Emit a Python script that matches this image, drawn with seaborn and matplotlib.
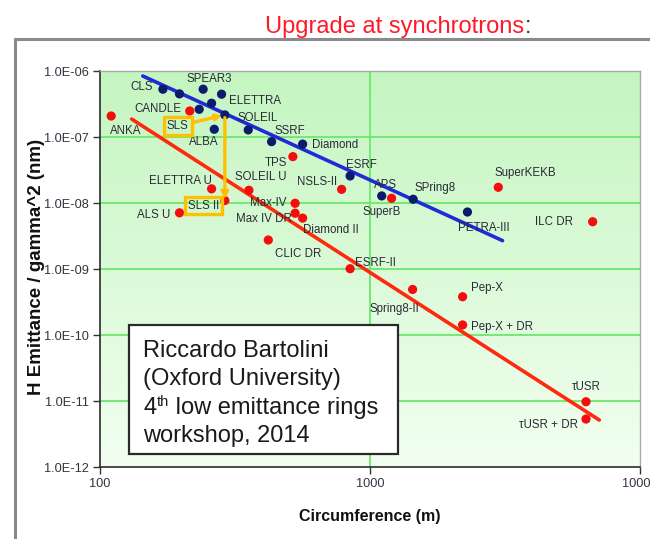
import numpy as np
import pandas as pd
import matplotlib
matplotlib.use("Agg")
import matplotlib.pyplot as plt
import seaborn as sns
from matplotlib import font_manager
from matplotlib.lines import Line2D
from matplotlib.patches import Rectangle

# ---------------------------------------------------------------- data
existing_names = ["CLS", "", "SPEAR3", "ELETTRA", "", "", "SLS", "ALBA", "SOLEIL",
                  "SSRF", "Diamond", "ESRF", "APS", "SPring8", "PETRA-III"]
existing_circ = [171, 197, 241, 282, 259, 233, 290, 265, 354,
                 432, 563, 844, 1105, 1445, 2296]
existing_emit = [5.3e-7, 4.5e-7, 5.3e-7, 4.45e-7, 3.25e-7, 2.63e-7, 2.16e-7, 1.31e-7, 1.28e-7,
                 8.5e-8, 7.8e-8, 2.57e-8, 1.28e-8, 1.14e-8, 7.3e-9]

upgrade_names = ["ANKA", "CANDLE", "ELETTRA U", "SOLEIL U", "SLS II", "ALS U", "Max-IV",
                 "Max IV DR", "Diamond II", "CLIC DR", "NSLS-II", "SuperB", "ESRF-II", "TPS",
                 "Spring8-II", "Pep-X", "Pep-X + DR", "τUSR", "τUSR + DR", "SuperKEKB", "ILC DR"]
upgrade_circ = [110, 215, 259, 356, 290, 197, 528,
                528, 563, 420, 785, 1202, 844, 518,
                1438, 2203, 2203, 6310, 6310, 2986, 6678]
upgrade_emit = [2.08e-7, 2.48e-7, 1.64e-8, 1.56e-8, 1.09e-8, 7.1e-9, 9.9e-9,
                7.0e-9, 5.9e-9, 2.75e-9, 1.61e-8, 1.18e-8, 1.01e-9, 5.04e-8,
                4.9e-10, 3.8e-10, 1.42e-10, 9.75e-12, 5.33e-12, 1.73e-8, 5.2e-9]

# scaling-law fits
existing_fit_circ = [144, 3097]
existing_fit_emit = [8.4e-7, 2.69e-9]
upgrade_fit_circ = [131, 7066]
upgrade_fit_emit = [1.87e-7, 5.15e-12]

x_ticks = [100, 1000, 10000]
x_tick_labels = ["100", "1000", "10000"]
y_ticks = [1e-12, 1e-11, 1e-10, 1e-9, 1e-8, 1e-7, 1e-6]
y_tick_labels = ["1.0E-12", "1.0E-11", "1.0E-10", "1.0E-09", "1.0E-08", "1.0E-07", "1.0E-06"]

title_text = "Upgrade at synchrotrons"
credit_lines = ["Riccardo Bartolini", "(Oxford University)", None, "workshop, 2014"]
credit_ordinal = ("4", "th", " low emittance rings")

# label placement (pixel offsets from each dot, horizontal alignment)
existing_label_pos = {
    "CLS": (-10, 2, "right"), "SPEAR3": (6, 10, "center"), "ELETTRA": (7, -7, "left"),
    "ALBA": (-11, -13, "center"), "SOLEIL": (-11, 12, "left"), "SSRF": (3, 11, "left"),
    "Diamond": (9, -1, "left"), "ESRF": (-4, 11, "left"), "APS": (-8, 11, "left"),
    "SPring8": (1, 11, "left"), "PETRA-III": (-9, -16, "left"),
}
upgrade_label_pos = {
    "ANKA": (-1, -15, "left"), "CANDLE": (-8, 2, "right"), "ELETTRA U": (0, 8, "right"),
    "SOLEIL U": (-14, 13, "left"), "ALS U": (-9, -2, "right"), "Max-IV": (-9, 0, "right"),
    "Max IV DR": (-3, -6, "right"), "Diamond II": (0, -12, "left"), "CLIC DR": (7, -14, "left"),
    "NSLS-II": (-4, 7, "right"), "SuperB": (-10, -14, "center"), "ESRF-II": (5, 6, "left"),
    "TPS": (-6, -6, "right"), "Spring8-II": (-18, -20, "center"), "Pep-X": (8, 9, "left"),
    "Pep-X + DR": (8, -2, "left"), "τUSR": (0, 15, "center"), "τUSR + DR": (-8, -6, "right"),
    "SuperKEKB": (27, 14, "center"), "ILC DR": (-20, 0, "right"),
}

# ---------------------------------------------------------------- fonts
sns.set_style("white")
available = {f.name for f in font_manager.fontManager.ttflist}
NARROW = "Liberation Sans Narrow" if "Liberation Sans Narrow" in available else None
plt.rcParams["font.family"] = ["Liberation Sans", "DejaVu Sans"]
REG = ["Liberation Sans", "DejaVu Sans"]


def cond(size):
    """Condensed face when present, else the regular face at equivalent width."""
    if NARROW:
        return dict(family=[NARROW, "DejaVu Sans"], fontsize=size / 0.82)
    return dict(family=REG, fontsize=size)


W, H = 650, 539
fig = plt.figure(figsize=(W / 100, H / 100), dpi=100)


def fx(px):
    return px / W


def fy(py):
    return 1 - py / H


# plot area
ax_l, ax_r, ax_t, ax_b = 100, 640, 71, 467
rect = [fx(ax_l), fy(ax_b), (ax_r - ax_l) / W, (ax_b - ax_t) / H]

# gradient backdrop
bg = fig.add_axes(rect, zorder=0)
grad = np.linspace(0, 1, 256).reshape(-1, 1)
top_c = np.array([196, 245, 192]) / 255
bot_c = np.array([242, 255, 240]) / 255
img = top_c[None, None, :] * (1 - grad[..., None]) + bot_c[None, None, :] * grad[..., None]
bg.imshow(img, aspect="auto", extent=[0, 1, 0, 1], origin="upper")
bg.set_axis_off()

ax = fig.add_axes(rect, zorder=1)
ax.set_facecolor("none")
ax.set_xscale("log")
ax.set_yscale("log")
ax.set_xlim(100, 10000)
ax.set_ylim(1e-12, 1e-6)

# grid
grid_c = "#6be86b"
for yv in y_ticks[1:-1]:
    ax.axhline(yv, color=grid_c, lw=1.3, zorder=1)
ax.axvline(1000, color=grid_c, lw=1.3, zorder=1)

# fits
fit_df = pd.DataFrame({"circ": existing_fit_circ + upgrade_fit_circ,
                       "emit": existing_fit_emit + upgrade_fit_emit,
                       "set": ["existing"] * 2 + ["upgrade"] * 2})
sns.lineplot(data=fit_df, x="circ", y="emit", hue="set",
             palette={"existing": "#1f2bd6", "upgrade": "#ff2a0e"},
             lw=2.6, legend=False, ax=ax, zorder=3, estimator=None, sort=False)

# dots
ex_df = pd.DataFrame({"circ": existing_circ, "emit": existing_emit, "name": existing_names})
up_df = pd.DataFrame({"circ": upgrade_circ, "emit": upgrade_emit, "name": upgrade_names})
sns.scatterplot(data=up_df, x="circ", y="emit", color="#f50c0c", s=44, edgecolor="none",
                ax=ax, zorder=4, legend=False)
sns.scatterplot(data=ex_df, x="circ", y="emit", color="#0c1b6a", s=44, edgecolor="none",
                ax=ax, zorder=4, legend=False)

label_c = "#2a2a35"
lab_font = cond(8.3)
for df, pos in ((ex_df, existing_label_pos), (up_df, upgrade_label_pos)):
    for _, r in df.iterrows():
        if r["name"] in pos:
            dx, dy, ha = pos[r["name"]]
            ax.annotate(r["name"], (r["circ"], r["emit"]), xytext=(dx, dy),
                        textcoords="offset pixels", ha=ha, va="center",
                        color=label_c, zorder=5, **lab_font)

# SLS -> SLS II highlight
orange = "#ffc000"
sls_i = existing_names.index("SLS")
sls2_i = upgrade_names.index("SLS II")
sls_pt = (existing_circ[sls_i], existing_emit[sls_i])
sls2_pt = (upgrade_circ[sls2_i], upgrade_emit[sls2_i])
box = dict(boxstyle="square,pad=0.25", fc="none", ec=orange, lw=2.4)
ax.annotate("SLS", sls_pt, xytext=(-47, -11), textcoords="offset pixels",
            ha="center", va="center", color=label_c, bbox=box, zorder=6,
            arrowprops=dict(arrowstyle="->", color=orange, lw=2.4,
                            shrinkA=0, shrinkB=2), **lab_font)
ax.annotate("SLS II", sls2_pt, xytext=(-21, -5), textcoords="offset pixels",
            ha="center", va="center", color=label_c, bbox=box, zorder=6, **lab_font)
ax.annotate("", xy=(sls2_pt[0], sls2_pt[1] * 1.04), xytext=sls_pt,
            arrowprops=dict(arrowstyle="->", color=orange, lw=2.4, shrinkA=2, shrinkB=0),
            zorder=6)

# axes, ticks
ax.set_xticks(x_ticks)
ax.set_xticklabels(x_tick_labels)
ax.set_yticks(y_ticks)
ax.set_yticklabels(y_tick_labels)
ax.minorticks_off()
tick_font = cond(9.2)
for t in ax.get_xticklabels() + ax.get_yticklabels():
    t.set_family(tick_font["family"])
    t.set_fontsize(tick_font["fontsize"])
    t.set_color("#333340")
ax.tick_params(axis="both", direction="out", length=5, width=1, color="#333333",
               left=True, bottom=True, pad=3)
for side in ("left", "bottom"):
    ax.spines[side].set_color("#2b2b2b")
    ax.spines[side].set_linewidth(1.2)
for side in ("top", "right"):
    ax.spines[side].set_color("#a9a9a9")
    ax.spines[side].set_linewidth(1.0)

ax.set_xlabel("Circumference (m)", fontweight="bold", color="#111111", **cond(11.5))
ax.set_ylabel("H Emittance / gamma^2 (nm)", fontweight="bold", color="#111111", **cond(13.5))
ax.xaxis.set_label_coords((370 - ax_l) / (ax_r - ax_l), -(517 - ax_b) / (ax_b - ax_t))
ax.yaxis.set_label_coords(-(ax_l - 37) / (ax_r - ax_l), (ax_b - 267) / (ax_b - ax_t))
ax.xaxis.label.set_va("center")
ax.yaxis.label.set_va("center")

# credit box
fig.add_artist(Rectangle((fx(129), fy(454)), (398 - 129) / W, (454 - 325) / H,
                         transform=fig.transFigure, fc="white", ec="#2a2a2a", lw=1.6,
                         zorder=10))
credit_kw = dict(color="#1a1a1a", va="baseline", ha="left", zorder=11, family=REG)
for i, line in enumerate(credit_lines):
    if line is not None:
        fig.text(fx(143), fy(357 + 28.3 * i), line, fontsize=17, **credit_kw)

fig.canvas.draw()
rend = fig.canvas.get_renderer()
base_y = 357 + 28.3 * 2
t4 = fig.text(fx(143), fy(base_y), credit_ordinal[0], fontsize=17, **credit_kw)
x_after = t4.get_window_extent(rend).x1
tsup = fig.text(x_after / W + 0.001, fy(base_y - 8), credit_ordinal[1], fontsize=10.5, **credit_kw)
x_after = tsup.get_window_extent(rend).x1
fig.text(x_after / W, fy(base_y), credit_ordinal[2], fontsize=17, **credit_kw)

# slide frame
fig.add_artist(Line2D([fx(15), 1.0], [fy(39), fy(39)], transform=fig.transFigure,
                      color="#8a8a8a", lw=2.2))
fig.add_artist(Line2D([fx(15), fx(15)], [fy(39), 0.0], transform=fig.transFigure,
                      color="#8a8a8a", lw=2.2))

# heading
title_font = cond(17)
ttl = fig.text(fx(265), fy(33), title_text, color="#ff1a2a", va="baseline", ha="left",
               **title_font)
bb = ttl.get_window_extent(rend)
fig.text(bb.x1 / W + 0.001, fy(33), ":", color="#333333", va="baseline", ha="left",
         **title_font)

fig.savefig("out.png", dpi=100)
